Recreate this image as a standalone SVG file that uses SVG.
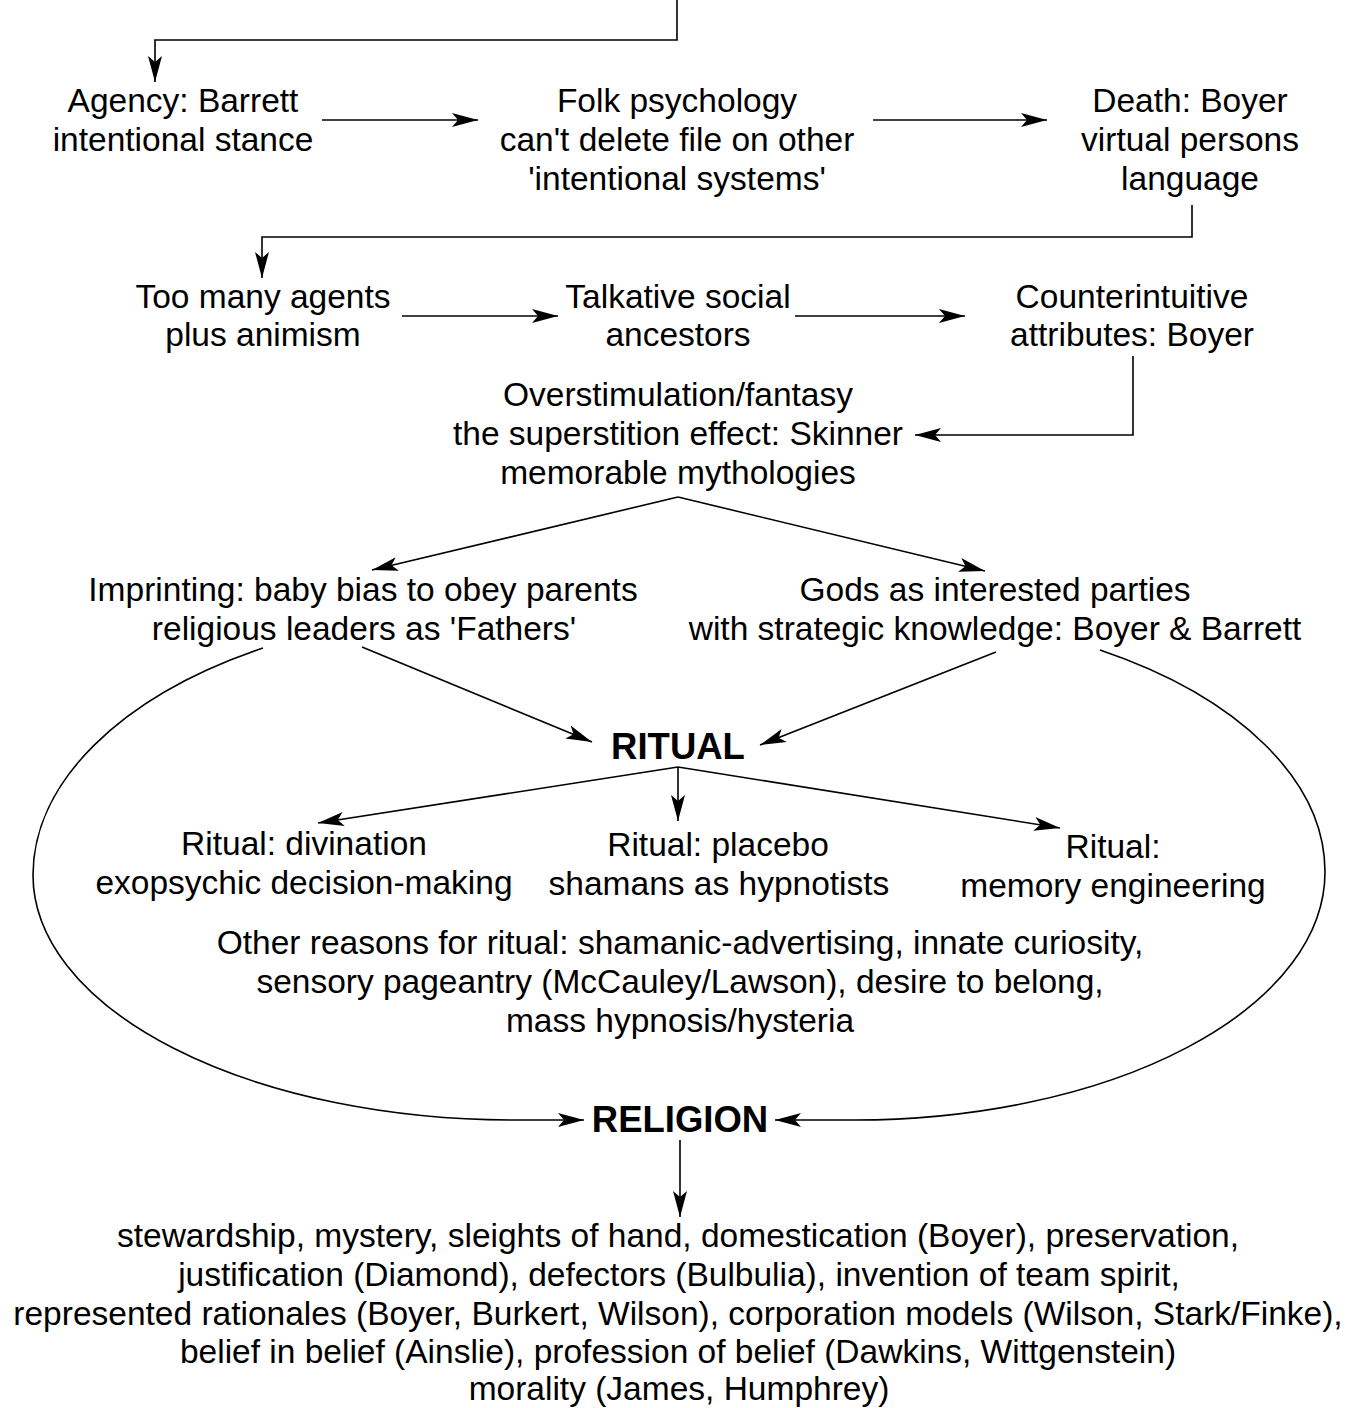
<svg xmlns="http://www.w3.org/2000/svg" width="1370" height="1408" viewBox="0 0 1370 1408">
<style>
text{font-family:"Liberation Sans",Arial,sans-serif;font-size:33.5px;fill:#000;text-anchor:middle}
.b{font-weight:bold;font-size:36.5px}
.c{fill:none;stroke:#000;stroke-width:1.6}
</style>
<defs>
<marker id="ah" viewBox="0 0 26 16" refX="26" refY="8" markerWidth="26" markerHeight="16" orient="auto" markerUnits="userSpaceOnUse">
<path d="M0,1 L26,8 L0,15 L6,8 z" fill="#000"/>
</marker>
</defs>
<rect width="1370" height="1408" fill="#fff"/>
<g id="connectors">
<path class="c" d="M677,0 V40 H155 V82" marker-end="url(#ah)"/>
<path class="c" d="M322,120 H478" marker-end="url(#ah)"/>
<path class="c" d="M873,120 H1047" marker-end="url(#ah)"/>
<path class="c" d="M1192,205 V237 H262 V278" marker-end="url(#ah)"/>
<path class="c" d="M402,316 H558" marker-end="url(#ah)"/>
<path class="c" d="M795,316 H965" marker-end="url(#ah)"/>
<path class="c" d="M1133,356 V435 H915" marker-end="url(#ah)"/>
<path class="c" d="M678,497 L372,570" marker-end="url(#ah)"/>
<path class="c" d="M678,497 L985,571" marker-end="url(#ah)"/>
<path class="c" d="M362,647 L592,742" marker-end="url(#ah)"/>
<path class="c" d="M996,652 L760,745" marker-end="url(#ah)"/>
<path class="c" d="M678,767 L318,823" marker-end="url(#ah)"/>
<path class="c" d="M678,767 V821" marker-end="url(#ah)"/>
<path class="c" d="M678,767 L1060,828" marker-end="url(#ah)"/>
<path class="c" d="M263,648 A480 266 0 0 0 33,875 A480 245 0 0 0 513,1120 L584,1120" marker-end="url(#ah)"/>
<path class="c" d="M1100,650 A470 260 0 0 1 1325,872 A470 248 0 0 1 855,1120 L775,1120" marker-end="url(#ah)"/>
<path class="c" d="M680,1140 V1217" marker-end="url(#ah)"/>
</g>
<g id="agency"><text x="183" y="112">Agency: Barrett</text><text x="183" y="151">intentional stance</text></g>
<g id="folk"><text x="677" y="112">Folk psychology</text><text x="677" y="151">can't delete file on other</text><text x="677" y="190">'intentional systems'</text></g>
<g id="death"><text x="1190" y="112">Death: Boyer</text><text x="1190" y="151">virtual persons</text><text x="1190" y="190">language</text></g>
<g id="agents"><text x="263" y="308">Too many agents</text><text x="263" y="346">plus animism</text></g>
<g id="ancestors"><text x="678" y="308">Talkative social</text><text x="678" y="346">ancestors</text></g>
<g id="counter"><text x="1132" y="308">Counterintuitive</text><text x="1132" y="346">attributes: Boyer</text></g>
<g id="overstim"><text x="678" y="406">Overstimulation/fantasy</text><text x="678" y="445">the superstition effect: Skinner</text><text x="678" y="484">memorable mythologies</text></g>
<g id="imprinting"><text x="363" y="601">Imprinting: baby bias to obey parents</text><text x="364" y="640">religious leaders as 'Fathers'</text></g>
<g id="gods"><text x="995" y="601">Gods as interested parties</text><text x="995" y="640">with strategic knowledge: Boyer &amp; Barrett</text></g>
<g id="ritual"><text class="b" x="678" y="759">RITUAL</text></g>
<g id="divination"><text x="304" y="855">Ritual: divination</text><text x="304" y="894">exopsychic decision-making</text></g>
<g id="placebo"><text x="718" y="856">Ritual: placebo</text><text x="719" y="895">shamans as hypnotists</text></g>
<g id="memory"><text x="1113" y="858">Ritual:</text><text x="1113" y="897">memory engineering</text></g>
<g id="other"><text x="680" y="954">Other reasons for ritual: shamanic-advertising, innate curiosity,</text><text x="680" y="993">sensory pageantry (McCauley/Lawson), desire to belong,</text><text x="680" y="1032">mass hypnosis/hysteria</text></g>
<g id="religion"><text class="b" x="680" y="1132">RELIGION</text></g>
<g id="outcomes"><text x="678" y="1247">stewardship, mystery, sleights of hand, domestication (Boyer), preservation,</text><text x="679" y="1286">justification (Diamond), defectors (Bulbulia), invention of team spirit,</text><text x="678" y="1325">represented rationales (Boyer, Burkert, Wilson), corporation models (Wilson, Stark/Finke),</text><text x="678" y="1363">belief in belief (Ainslie), profession of belief (Dawkins, Wittgenstein)</text><text x="679" y="1400">morality (James, Humphrey)</text></g>
</svg>
